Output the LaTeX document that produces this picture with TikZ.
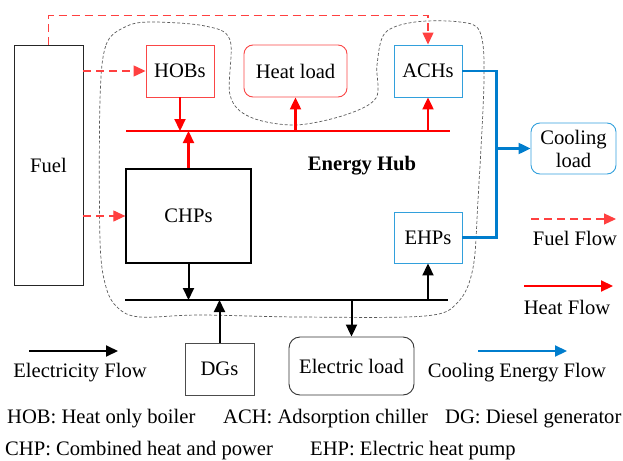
\documentclass[tikz,border=0pt]{standalone}
\usepackage{fontspec}
\setmainfont{Liberation Serif}
\usetikzlibrary{arrows.meta}
\definecolor{heatred}{RGB}{255,0,0}
\definecolor{boxred}{RGB}{250,70,70}
\definecolor{coolblue}{RGB}{0,125,205}
\definecolor{boxblue}{RGB}{50,160,220}
\definecolor{cloudgray}{RGB}{90,90,90}
\begin{document}
\begin{tikzpicture}[x=1pt,y=-1pt,
  every node/.style={font=\fontsize{20.6}{24}\selectfont, inner sep=0pt},
  blk/.style={draw, minimum width=#1, line width=0.9pt},
  redbox/.style={draw=boxred, line width=0.9pt, minimum width=68pt, minimum height=52pt},
  bluebox/.style={draw=boxblue, line width=0.9pt, minimum width=68pt, minimum height=52pt},
  tip/.style={-{Triangle[length=12pt,width=11pt]}},
  heat/.style={draw=heatred, line width=2.2pt, tip},
  heatbus/.style={draw=heatred, line width=2.8pt},
  elec/.style={draw=black, line width=2pt, tip},
  elecbus/.style={draw=black, line width=2.4pt},
  cool/.style={draw=coolblue, line width=2.2pt},
  coolarrow/.style={cool, tip},
  fuelflow/.style={draw=heatred!75, line width=1.2pt, dash pattern=on 8pt off 5pt, -{Triangle[length=12pt,width=11pt]}},
  hubline/.style={draw=cloudgray, line width=0.7pt, dash pattern=on 3pt off 2pt},
  lbl/.style={anchor=west}
]
\useasboundingbox (0,0) rectangle (623,460);

% Energy hub boundary
\draw[hubline] plot[smooth cycle, tension=0.55] coordinates {
  (100,100) (106,45) (125,27) (150,22) (205,26) (230,40) (230,95) (250,117)
  (295,125) (345,115) (376,98) (377,65) (385,33) (415,22) (460,22) (480,32)
  (484,80) (478,200) (473,268) (458,302) (425,316) (300,317) (200,315)
  (140,317) (118,308) (106,287) (100,240)};

% nodes
\node[blk=69pt, minimum height=240pt, draw=black!85] (fuel) at (48.5,165) {Fuel};
\node[redbox] (hob) at (180,71) {HOBs};
\node[redbox, minimum width=103pt, rounded corners=9pt] (heat) at (295.5,71) {Heat load};
\node[bluebox] (ach) at (428,71) {ACHs};
\node[blk=125pt, minimum height=94pt, line width=1.3pt] (chp) at (188.5,216) {CHPs};
\node[bluebox, minimum height=51pt] (ehp) at (428,237.5) {EHPs};
\node[blk=69pt, minimum height=52pt, draw=black!70] (dg) at (219.5,369) {DGs};
\node[blk=125pt, minimum height=58pt, rounded corners=11pt, draw=black!80] (el) at (351.5,366) {Electric load};
\node[draw=boxblue, line width=0.9pt, minimum width=85pt, minimum height=51pt, rounded corners=9pt, align=center, font=\fontsize{20.6}{23}\selectfont] (cl) at (573.5,148.5) {Cooling\\load};
\node[font=\fontsize{20.6}{24}\selectfont\bfseries] (hub) at (362,166) {Energy Hub};

% buses
\coordinate (hb1) at (126,131);
\coordinate (hb2) at (450,131);
\coordinate (eb1) at (125,300);
\coordinate (eb2) at (448,300);
\draw[heatbus] (hb1) -- (hb2);
\draw[elecbus] (eb1) -- (eb2);

% fuel flows
\draw[fuelflow] (fuel.north) -- ++(0,-29) -| (ach.north);
\draw[fuelflow] (fuel.east |- hob.west) -- (hob.west);
\draw[fuelflow] (fuel.east |- chp.west) -- (chp.west);

% heat flows
\draw[heat] (hob.south) -- (hob.south |- hb1);
\draw[heat] (chp.north) -- (chp.north |- hb1);
\draw[heat] (hb1 -| heat.south) -- (heat.south);
\draw[heat] (hb1 -| ach.south) -- (ach.south);

% electricity flows
\draw[elec] (chp.south) -- (chp.south |- eb1);
\draw[elec] (dg.north) -- (dg.north |- eb1);
\draw[elec] (eb1 -| el.north) -- (el.north);
\draw[elec] (eb1 -| ehp.south) -- (ehp.south);

% cooling flows
\draw[cool] (ach.east) -- ++(34,0) coordinate (bc) |- (ehp.east);
\draw[coolarrow] (bc |- cl.west) -- (cl.west);

% legend
\coordinate (lf1) at (531,219); \coordinate (lf2) at (616,219);
\draw[fuelflow] (lf1) -- (lf2);
\node (lft) at (575,238) {Fuel Flow};
\coordinate (lh1) at (524,286); \coordinate (lh2) at (613,286);
\draw[heat] (lh1) -- (lh2);
\node (lht) at (567,307) {Heat Flow};
\coordinate (lc1) at (478,351); \coordinate (lc2) at (567,351);
\draw[coolarrow] (lc1) -- (lc2);
\node (lct) at (517,373) {Cooling Energy Flow};
\coordinate (le1) at (29,351); \coordinate (le2) at (118,351);
\draw[elec] (le1) -- (le2);
\node (let) at (80,373) {Electricity Flow};

% abbreviations
\node[lbl] (a1) at (7,419) {HOB: Heat only boiler};
\node[lbl] (a2) at (223,419) {ACH: Adsorption chiller};
\node[lbl] (a3) at (445,419) {DG: Diesel generator};
\node[lbl] (a4) at (5,451) {CHP: Combined heat and power};
\node[lbl] (a5) at (310,451) {EHP: Electric heat pump};
\end{tikzpicture}
\end{document}
